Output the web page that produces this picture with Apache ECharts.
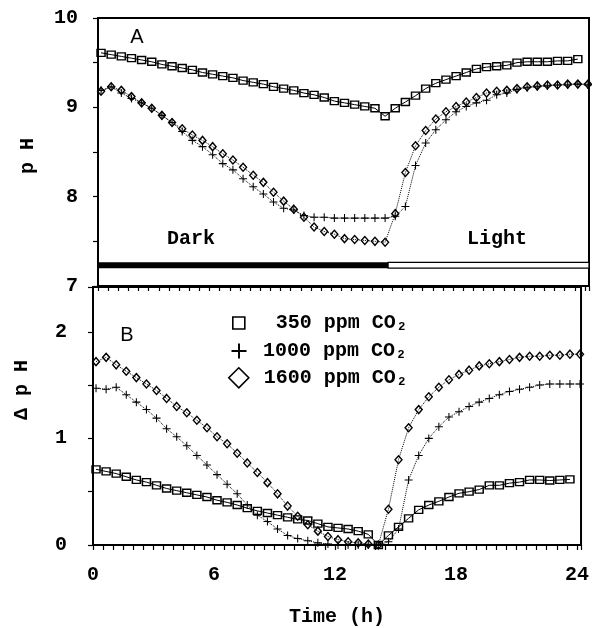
<!DOCTYPE html>
<html><head><meta charset="utf-8">
<script src="https://cdn.jsdelivr.net/npm/echarts@6/dist/echarts.min.js"></script>
<style>html,body{margin:0;padding:0;background:#fff}#c{width:592px;height:628px}</style>
</head><body><div id="c"></div>
<script>
// sampling times (h)
const hours = [0.15,0.65,1.15,1.65,2.15,2.65,3.15,3.65,4.15,4.65,5.15,5.65,6.15,6.65,7.15,7.65,8.15,8.65,9.15,9.65,10.15,10.65,11.15,11.65,12.15,12.65,13.15,13.65,14.15,14.65,15.15,15.65,16.15,16.65,17.15,17.65,18.15,18.65,19.15,19.65,20.15,20.65,21.15,21.65,22.15,22.65,23.15,23.65,24.15];
const lightOn = 14.3;
const seriesNames = ['350 ppm CO₂', '1000 ppm CO₂', '1600 ppm CO₂'];
// Panel A: pH
const pH350 = [9.61,9.59,9.57,9.55,9.53,9.51,9.48,9.46,9.44,9.42,
 9.39,9.37,9.35,9.33,9.30,9.28,9.26,9.23,9.21,9.19,
 9.16,9.14,9.11,9.07,9.05,9.03,9.01,8.99,8.90,8.99,
 9.06,9.13,9.21,9.27,9.31,9.35,9.39,9.43,9.45,9.46,
 9.47,9.50,9.51,9.51,9.51,9.52,9.52,9.54];
const pH1000 = [9.19,9.23,9.16,9.10,9.05,8.99,8.91,8.83,8.73,8.63,
 8.56,8.47,8.37,8.30,8.20,8.11,8.03,7.94,7.87,7.85,
 7.79,7.77,7.77,7.76,7.76,7.76,7.76,7.76,7.76,7.78,
 7.89,8.35,8.60,8.75,8.86,8.95,9.01,9.05,9.08,9.14,
 9.16,9.20,9.22,9.23,9.24,9.25,9.25,9.26,9.25];
const pH1600 = [9.18,9.23,9.19,9.12,9.05,8.99,8.91,8.83,8.76,8.69,
 8.63,8.56,8.48,8.41,8.33,8.24,8.16,8.05,7.95,7.86,
 7.77,7.66,7.61,7.58,7.53,7.52,7.51,7.50,7.49,7.81,
 8.27,8.57,8.74,8.87,8.95,9.01,9.06,9.11,9.16,9.18,
 9.19,9.21,9.23,9.24,9.25,9.25,9.26,9.26,9.26];
// Panel B: delta pH
const d350 = [0.71,0.69,0.67,0.64,0.61,0.59,0.56,0.53,0.51,0.49,
 0.47,0.45,0.42,0.40,0.375,0.345,0.32,0.30,0.28,0.26,
 0.24,0.23,0.20,0.17,0.16,0.15,0.13,0.10,0.00,0.09,
 0.17,0.25,0.33,0.375,0.41,0.45,0.485,0.50,0.52,0.56,
 0.56,0.58,0.59,0.61,0.61,0.605,0.61,0.615];
const d1000 = [1.47,1.46,1.48,1.41,1.34,1.27,1.19,1.09,1.015,0.93,
 0.84,0.75,0.66,0.57,0.48,0.375,0.28,0.22,0.15,0.09,
 0.06,0.04,0.02,0.01,0.00,0.00,0.00,0.00,0.00,0.03,
 0.15,0.61,0.84,1.00,1.11,1.20,1.25,1.30,1.34,1.375,
 1.41,1.44,1.46,1.48,1.50,1.51,1.51,1.51,1.51];
const d1600 = [1.72,1.76,1.69,1.63,1.57,1.51,1.45,1.375,1.30,1.24,
 1.17,1.10,1.015,0.95,0.86,0.77,0.68,0.585,0.48,0.365,
 0.27,0.19,0.13,0.08,0.05,0.03,0.02,0.01,0.00,0.335,
 0.80,1.10,1.27,1.39,1.48,1.55,1.60,1.64,1.68,1.70,
 1.72,1.74,1.76,1.77,1.77,1.78,1.78,1.79,1.79];

const pair = arr => arr.map((v, i) => [hours[i], v]);
const MONO = '"Liberation Mono", "DejaVu Sans Mono", monospace';
const SANS = '"Liberation Sans", Arial, sans-serif';
const PLUS = 'path://M0,4.35H10V5.65H0Z M4.35,0H5.65V10H4.35Z';

const intLabel = v => Math.abs(v - Math.round(v)) < 1e-6 ? String(Math.round(v)) : '';
const sixLabel = v => (Math.abs(v / 6 - Math.round(v / 6)) < 1e-6 && v <= 24.001) ? String(Math.round(v)) : '';

const axisLineStyle = { color: '#000', width: 2 };
function xAx(gridIndex, showLabel) {
  return {
    type: 'value', gridIndex, min: 0, max: 24.2, interval: 0.5,
    axisLine: { show: true, lineStyle: axisLineStyle },
    axisTick: { show: true, inside: false, length: 5, lineStyle: { color: '#000', width: 1.2 } },
    axisLabel: { show: showLabel, formatter: sixLabel, margin: 20, color: '#000', fontFamily: MONO, fontSize: 20, fontWeight: 'bold' },
    splitLine: { show: false },
    name: showLabel ? 'Time (h)' : '', nameLocation: 'middle', nameGap: 62,
    nameTextStyle: { color: '#000', fontFamily: MONO, fontSize: 20, fontWeight: 'bold' }
  };
}
function yAx(gridIndex, min, max, margin) {
  return {
    type: 'value', gridIndex, min, max, interval: 0.5,
    axisLine: { show: true, lineStyle: axisLineStyle },
    axisTick: { show: true, inside: false, length: 5, lineStyle: { color: '#000', width: 1.2 } },
    axisLabel: { formatter: intLabel, margin, color: '#000', fontFamily: MONO, fontSize: 20, fontWeight: 'bold' },
    splitLine: { show: false }
  };
}

function s350(xi, data, extra) {
  return Object.assign({
    name: seriesNames[0], type: 'line', xAxisIndex: xi, yAxisIndex: xi, data: pair(data),
    symbol: 'rect', symbolSize: [8, 7], showAllSymbol: true,
    itemStyle: { color: 'rgba(255,255,255,0)', borderColor: '#000', borderWidth: 1.4 },
    lineStyle: { color: '#000', width: 1, type: 'solid' }, animation: false, z: 3
  }, extra || {});
}
function s1000(xi, data) {
  return {
    name: seriesNames[1], type: 'line', xAxisIndex: xi, yAxisIndex: xi, data: pair(data),
    symbol: PLUS, symbolSize: 8, showAllSymbol: true,
    itemStyle: { color: '#000', borderWidth: 0 },
    lineStyle: { color: '#000', width: 1, type: 'dotted' }, animation: false, z: 4
  };
}
function s1600(xi, data) {
  return {
    name: seriesNames[2], type: 'line', xAxisIndex: xi, yAxisIndex: xi, data: pair(data),
    symbol: 'diamond', symbolSize: [7, 8], showAllSymbol: true,
    itemStyle: { color: 'rgba(255,255,255,0)', borderColor: '#000', borderWidth: 1.4 },
    lineStyle: { color: '#000', width: 1, type: 'dotted' }, animation: false, z: 5
  };
}

function legendItem(name, icon, w, h, cx, cy, fill, bw) {
  const left = cx - w / 2;
  return {
    data: [{ name, icon }], left, top: cy - 10, padding: 0, itemWidth: w, itemHeight: h,
    selectedMode: false,
    itemStyle: { color: fill, borderColor: '#000', borderWidth: bw },
    textStyle: { color: '#000', fontFamily: MONO, fontSize: 20, lineHeight: 20, fontWeight: 'bold',
                 padding: [0, 0, 0, 263 - (left + w + 5)] },
    formatter: n => (n.startsWith('350') ? ' ' : '') + n
  };
}

const chart = echarts.init(document.getElementById('c'), null, { renderer: 'canvas' });
chart.setOption({
  animation: false,
  backgroundColor: '#fff',
  grid: [
    { left: 98, top: 18, width: 491, height: 268, show: true, borderColor: '#000', borderWidth: 2, backgroundColor: 'transparent' },
    { left: 93, top: 287, width: 491, height: 258, show: true, borderColor: '#000', borderWidth: 2, backgroundColor: 'transparent' }
  ],
  xAxis: [xAx(0, false), xAx(1, true)],
  yAxis: [yAx(0, 7, 10, 20), yAx(1, 0, 2.42, 26)],
  legend: [
    legendItem(seriesNames[0], 'rect', 12, 12, 238, 323, 'rgba(255,255,255,0)', 1.6),
    legendItem(seriesNames[1], PLUS, 15, 15, 239, 351, '#000', 0),
    legendItem(seriesNames[2], 'diamond', 20, 20, 238, 377, 'rgba(255,255,255,0)', 1.6)
  ],
  series: [
    s350(0, pH350, {
      markArea: {
        silent: true,
        label: { show: false },
        data: [
          [{ xAxis: 0, yAxis: 7.2, itemStyle: { color: '#000' } }, { xAxis: lightOn, yAxis: 7.265 }],
          [{ xAxis: lightOn, yAxis: 7.2, itemStyle: { color: '#fff', borderColor: '#000', borderWidth: 1.2 } }, { xAxis: 24.2, yAxis: 7.265 }]
        ]
      }
    }),
    s1000(0, pH1000),
    s1600(0, pH1600),
    s350(1, d350),
    s1000(1, d1000),
    s1600(1, d1600)
  ],
  graphic: [
    { type: 'text', x: 137, y: 37, style: { text: 'A', fontFamily: SANS, fontSize: 20, fill: '#000', align: 'center', verticalAlign: 'middle' } },
    { type: 'text', x: 127, y: 335, style: { text: 'B', fontFamily: SANS, fontSize: 20, fill: '#000', align: 'center', verticalAlign: 'middle' } },
    { type: 'text', x: 191, y: 239, style: { text: 'Dark', fontFamily: MONO, fontSize: 20, fontWeight: 'bold', fill: '#000', align: 'center', verticalAlign: 'middle' } },
    { type: 'text', x: 497, y: 239, style: { text: 'Light', fontFamily: MONO, fontSize: 20, fontWeight: 'bold', fill: '#000', align: 'center', verticalAlign: 'middle' } },
    { type: 'text', x: 28, y: 156, rotation: Math.PI / 2, style: { text: 'p H', fontFamily: MONO, fontSize: 20, fontWeight: 'bold', fill: '#000', align: 'center', verticalAlign: 'middle' } },
    { type: 'text', x: 22, y: 390, rotation: Math.PI / 2, style: { text: 'Δ p H', fontFamily: MONO, fontSize: 20, fontWeight: 'bold', fill: '#000', align: 'center', verticalAlign: 'middle' } }
  ]
});
</script>
</body></html>
